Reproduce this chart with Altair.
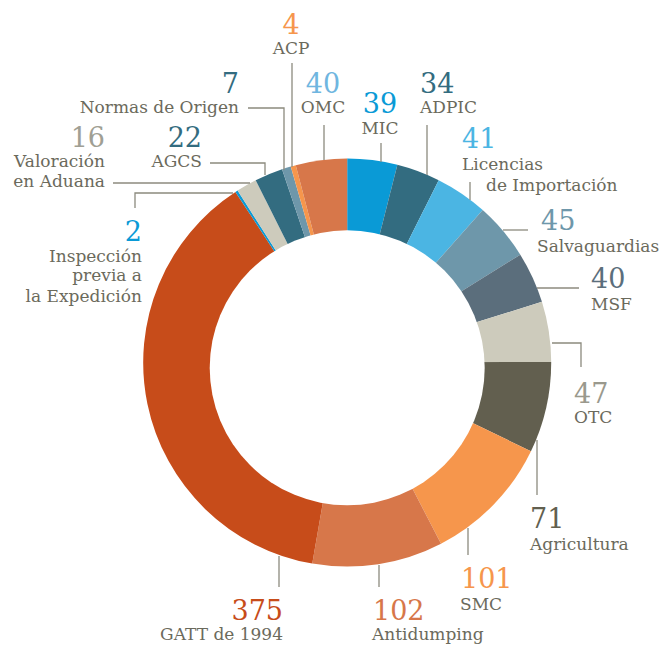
import math
import altair as alt
import pandas as pd

# ---------------- data ----------------
categories = ["MIC", "ADPIC", "Licencias de Importación", "Salvaguardias", "MSF",
              "OTC", "Agricultura", "SMC", "Antidumping", "GATT de 1994",
              "Inspección previa a la Expedición", "Valoración en Aduana", "AGCS",
              "Normas de Origen", "ACP", "OMC"]
values = [39, 34, 41, 45, 40, 47, 71, 101, 102, 375, 2, 16, 22, 7, 4, 40]
label_lines = [["MIC"], ["ADPIC"], ["Licencias", "de Importación"], ["Salvaguardias"],
               ["MSF"], ["OTC"], ["Agricultura"], ["SMC"], ["Antidumping"],
               ["GATT de 1994"], ["Inspección", "previa a", "la Expedición"],
               ["Valoración", "en Aduana"], ["AGCS"], ["Normas de Origen"], ["ACP"], ["OMC"]]

# ---------------- styles ----------------
seg_colors = ["#0A9AD6", "#336C80", "#4BB5E3", "#6E97AA", "#5B6E7C", "#CDCBBC",
              "#625F4F", "#F6964C", "#D7774A", "#C74C1A", "#0A9AD6", "#CDCBBC",
              "#336C80", "#6E97AA", "#F6964C", "#D7774A"]
num_colors = ["#0A9AD6", "#336C80", "#4BB5E3", "#6E97AA", "#5B6E7C", "#9A998D",
              "#625F4F", "#F6964C", "#D7774A", "#C74C1A", "#0A9AD6", "#A09F94",
              "#336C80", "#336C80", "#F6964C", "#6FB6E0"]
TEXT_COLOR = "#6B6A5C"
LINE_COLOR = "#8C8A7E"
FONT = "DejaVu Serif"
NUM_SIZE = 27
LBL_SIZE = 17

# ---------------- layout (page pixel coordinates) ----------------
W, H = 653, 637
CX, CY, R_OUT = 347.2, 362.6, 204
HOLE_X, HOLE_Y, R_IN = 347.2, 367.8, 137.5

num_pos = [(380, 113, "center"), (420, 93, "left"), (462, 148, "left"), (541, 230, "left"),
           (591, 288, "left"), (574, 403, "left"), (530, 528, "left"), (461, 588, "left"),
           (373, 620, "left"), (283, 620, "right"), (142, 241, "right"), (105, 147, "right"),
           (202, 147, "right"), (239, 93, "right"), (291, 34, "center"), (323, 93, "center")]
line_pos = [[(380, 134)], [(420, 113)], [(462, 170), (486, 191)], [(537, 252)],
            [(591, 310)], [(574, 423)], [(530, 550)], [(460, 610)], [(372, 640)],
            [(283, 640)], [(142, 262), (142, 281), (142, 302)], [(105, 167), (105, 187)],
            [(202, 167)], [(239, 113)], [(291, 54)], [(323, 113)]]
leaders = [[(381, 162), (381, 143)], [(427, 175), (427, 125)], [(470, 200), (470, 182)],
           [(503, 230), (528, 230)], [(537, 288), (579, 288)],
           [(552, 343), (581, 343), (581, 367)], [(537, 440), (537, 495)],
           [(468, 528), (468, 555)], [(379, 565), (379, 587)], [(279, 556), (279, 587)],
           [(233, 193), (135, 193), (135, 208)], [(250, 183), (113, 183)],
           [(265, 175), (265, 163), (210, 163)], [(284, 170), (284, 108), (248, 108)],
           [(292, 167), (292, 63)], [(324, 160), (324, 125)]]

xs = alt.Scale(domain=[8, 8 + W], zero=False, nice=False)
ys = alt.Scale(domain=[8, 8 + H], zero=False, nice=False, reverse=True)

seg_df = pd.DataFrame({"cat": categories, "value": values,
                       "idx": list(range(len(values))), "color": seg_colors})

pie = alt.Chart(seg_df).mark_arc(radius=R_OUT).encode(
    theta=alt.Theta("value:Q", stack=True),
    order=alt.Order("idx:Q"),
    color=alt.Color("color:N", scale=None),
    x=alt.XDatum(CX, scale=xs, axis=None),
    y=alt.YDatum(CY, scale=ys, axis=None),
)

hole = alt.Chart(pd.DataFrame({"a": [1]})).mark_arc(
    radius=R_IN, theta=0, theta2=2 * math.pi, color="white"
).encode(
    x=alt.XDatum(HOLE_X, scale=xs, axis=None),
    y=alt.YDatum(HOLE_Y, scale=ys, axis=None),
)

lead_rows = []
for i, pts in enumerate(leaders):
    for k, (px, py) in enumerate(pts):
        lead_rows.append({"lid": i, "k": k, "x": px, "y": py})
lead_df = pd.DataFrame(lead_rows)

lines = alt.Chart(lead_df).mark_line(color=LINE_COLOR, strokeWidth=1.3).encode(
    x=alt.X("x:Q", scale=xs, axis=None),
    y=alt.Y("y:Q", scale=ys, axis=None),
    detail="lid:N",
    order="k:Q",
)

text_rows = []
for i, v in enumerate(values):
    nx, ny, al = num_pos[i]
    text_rows.append({"x": nx, "y": ny, "text": str(v), "color": num_colors[i],
                      "size": NUM_SIZE, "align": al})
    for t, (lx, ly) in zip(label_lines[i], line_pos[i]):
        text_rows.append({"x": lx, "y": ly, "text": t, "color": TEXT_COLOR,
                          "size": LBL_SIZE, "align": al})
text_df = pd.DataFrame(text_rows)

text_layers = []
for al in ["left", "center", "right"]:
    text_layers.append(
        alt.Chart(text_df).transform_filter(alt.datum.align == al).mark_text(
            align=al, baseline="alphabetic", font=FONT
        ).encode(
            x=alt.X("x:Q", scale=xs, axis=None),
            y=alt.Y("y:Q", scale=ys, axis=None),
            text="text:N",
            color=alt.Color("color:N", scale=None),
            size=alt.Size("size:Q", scale=None),
        )
    )

chart = alt.layer(pie, hole, lines, *text_layers).properties(
    width=W, height=H, padding=0, autosize="none", background="white"
).configure_view(stroke=None)

chart.save("out.html", embed_options={"renderer": "svg", "actions": False})
